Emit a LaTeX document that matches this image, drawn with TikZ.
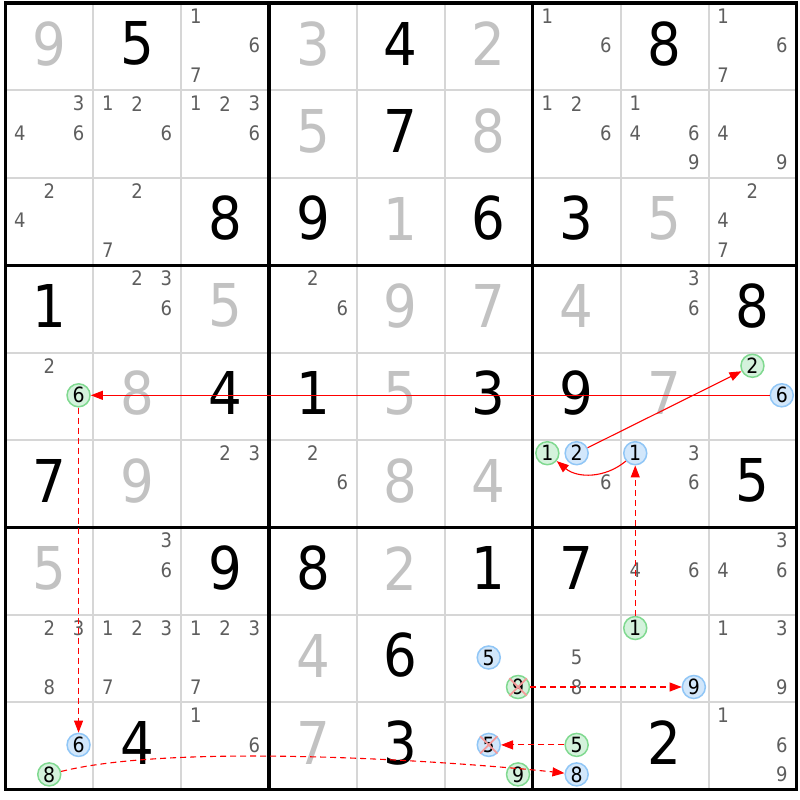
\documentclass[tikz,border=0pt]{standalone}
\usepackage{fontspec}
\setmainfont{DejaVu Sans Condensed}
\usetikzlibrary{arrows.meta}

\definecolor{gridgray}{HTML}{D6D6D6}
\definecolor{solvedgray}{HTML}{C2C2C2}
\definecolor{candgray}{HTML}{5E5E5E}
\definecolor{onfill}{HTML}{D4F2DC}
\definecolor{ondraw}{HTML}{80D990}
\definecolor{offfill}{HTML}{D2E7FB}
\definecolor{offdraw}{HTML}{90C6F6}
\definecolor{linkred}{HTML}{FF0000}
\definecolor{crossred}{HTML}{F59A9A}

% big digit of a cell: style, row, column, digit
\newcommand{\cellnum}[4]{\node[#1] (d#2#3) at ({5.3+(#3-0.5)*87.9}, {-(#2-0.5)*87.4}) {#4};}
% candidate of a cell: style, row, column, digit
\newcommand{\candnum}[4]{\node[#1] (n#2#3#4) at ({5.3+(#3-0.5)*87.9+(mod(#4-1,3)-1)*29.3}, {-2-(#2-0.5)*87.4-(int((#4-1)/3)-1)*29.5}) {#4};}

\begin{document}
\begin{tikzpicture}[x=1pt, y=1pt, >={Triangle[length=12pt, width=9pt]},
    given/.style={inner sep=0pt, font=\fontsize{59}{59}\selectfont, text=black},
    solved/.style={given, text=solvedgray},
    cand/.style={inner sep=0pt, font=\fontsize{20}{20}\selectfont, text=candgray},
    oncand/.style={circle, inner sep=0pt, minimum size=23pt, line width=1.5pt, draw=ondraw, fill=onfill, font=\fontsize{21}{21}\selectfont},
    offcand/.style={oncand, draw=offdraw, fill=offfill},
    thinline/.style={gridgray, line width=2pt},
    boxline/.style={black, line width=3.4pt},
    strong/.style={->, linkred, line width=1.1pt},
    weak/.style={strong, dash pattern=on 6pt off 4pt},
    elim/.style={crossred, line width=1.8pt}]

  \fill[white] (0,0) rectangle (800,-800);
  \useasboundingbox (0,0) rectangle (800,-800);

  % grid
  \foreach \i in {1,2,4,5,7,8} {
    \draw[thinline] ({5.3+\i*87.9},-3) -- ({5.3+\i*87.9},{-3-9*87.4});
    \draw[thinline] (5.3,{-3-\i*87.4}) -- ({5.3+9*87.9},{-3-\i*87.4});
  }
  \foreach \i in {3,6} {
    \draw[boxline] ({5.3+\i*87.9},-3) -- ({5.3+\i*87.9},{-3-9*87.4});
    \draw[boxline] (5.3,{-3-\i*87.4}) -- ({5.3+9*87.9},{-3-\i*87.4});
  }
  \draw[boxline] (5.3,-3) rectangle ({5.3+9*87.9},{-3-9*87.4});

  % given digits
  \foreach \r/\c/\d in {1/2/5, 1/5/4, 1/8/8, 2/5/7, 3/3/8, 3/4/9, 3/6/6, 3/7/3,
      4/1/1, 4/9/8, 5/3/4, 5/4/1, 5/6/3, 5/7/9, 6/1/7, 6/9/5,
      7/3/9, 7/4/8, 7/6/1, 7/7/7, 8/5/6, 9/2/4, 9/5/3, 9/8/2}
    {\cellnum{given}{\r}{\c}{\d}}

  % solved digits
  \foreach \r/\c/\d in {1/1/9, 1/4/3, 1/6/2, 2/4/5, 2/6/8, 3/5/1, 3/8/5,
      4/3/5, 4/5/9, 4/6/7, 4/7/4, 5/2/8, 5/5/5, 5/8/7, 6/2/9, 6/5/8, 6/6/4,
      7/1/5, 7/5/2, 8/4/4, 9/4/7}
    {\cellnum{solved}{\r}{\c}{\d}}

  % pencil marks
  \foreach \r/\c/\ds in {1/3/{1,6,7}, 1/7/{1,6}, 1/9/{1,6,7},
      2/1/{3,4,6}, 2/2/{1,2,6}, 2/3/{1,2,3,6}, 2/7/{1,2,6}, 2/8/{1,4,6,9}, 2/9/{4,9},
      3/1/{2,4}, 3/2/{2,7}, 3/9/{2,4,7},
      4/2/{2,3,6}, 4/4/{2,6}, 4/8/{3,6},
      5/1/{2},
      6/3/{2,3}, 6/4/{2,6}, 6/7/{6}, 6/8/{3,6},
      7/2/{3,6}, 7/8/{4,6}, 7/9/{3,4,6},
      8/1/{2,3,8}, 8/2/{1,2,3,7}, 8/3/{1,2,3,7}, 8/7/{5,8}, 8/9/{1,3,9},
      9/3/{1,6}, 9/9/{1,6,9}}
    {\foreach \d in \ds {\candnum{cand}{\r}{\c}{\d}}}

  % chain candidates
  \foreach \r/\c/\d in {5/1/6, 5/9/2, 6/7/1, 8/8/1, 8/6/9, 9/1/8, 9/6/9, 9/7/5}
    {\candnum{oncand}{\r}{\c}{\d}}
  \foreach \r/\c/\d in {5/9/6, 6/7/2, 6/8/1, 8/6/5, 8/8/9, 9/1/6, 9/6/5, 9/7/8}
    {\candnum{offcand}{\r}{\c}{\d}}

  % eliminations
  \foreach \n in {n869, n965} {
    \draw[elim] (\n.north west) -- (\n.south east);
    \draw[elim] (\n.north east) -- (\n.south west);
  }

  % links
  \draw[strong] (n596) -- (n516);
  \draw[strong] (n672) -- (n592);
  \draw[strong] (n681) to[bend left=40] (n671);
  \draw[weak] (n881) -- (n681);
  \draw[weak] (n516) -- (n916);
  \draw[weak] (n918) to[out=14, in=174, looseness=0.6] (n978);
  \draw[weak] (n975) -- (n965);
  \draw[weak] (n869) -- (n889);
\end{tikzpicture}
\end{document}
